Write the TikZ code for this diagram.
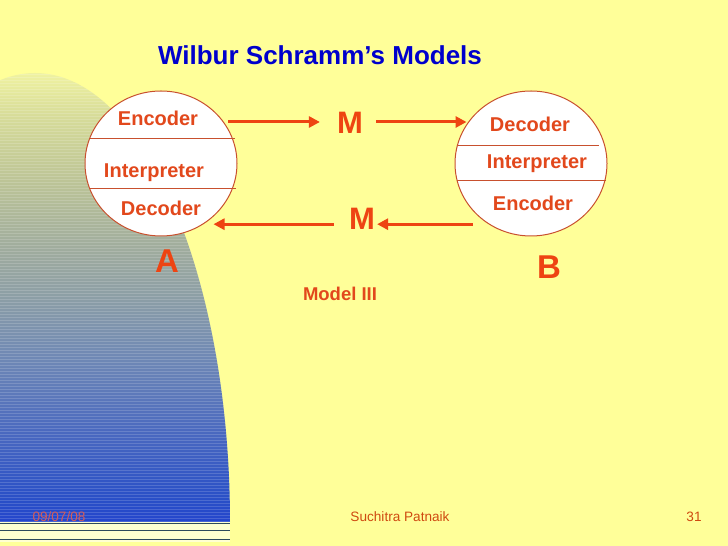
\documentclass[tikz,border=0pt]{standalone}
\usepackage{fontspec}
\setmainfont{Liberation Sans}
\usetikzlibrary{arrows.meta,shapes.geometric}

\definecolor{slideyellow}{HTML}{FFFF99}
\definecolor{ringbrown}{HTML}{C8502E}
\definecolor{partred}{HTML}{E2481C}
\definecolor{arrowred}{HTML}{EE4412}
\definecolor{titleblue}{HTML}{0000CC}
\definecolor{footred}{HTML}{CF4A10}
\definecolor{datered}{HTML}{D25C5C}
\definecolor{stripedark}{HTML}{2E4A5C}

\pgfdeclareverticalshading{sidefade}{100bp}{%
  rgb(0bp)=(0.14,0.27,0.80); rgb(25bp)=(0.14,0.27,0.80);
  rgb(27.5bp)=(0.16,0.31,0.78); rgb(35bp)=(0.29,0.41,0.75);
  rgb(43bp)=(0.43,0.53,0.71); rgb(50bp)=(0.55,0.62,0.65);
  rgb(55bp)=(0.62,0.67,0.62); rgb(63bp)=(0.74,0.77,0.59);
  rgb(70bp)=(0.84,0.86,0.60); rgb(75bp)=(0.94,0.95,0.63);
  rgb(100bp)=(0.94,0.95,0.63)}

\begin{document}
\begin{tikzpicture}[x=1pt, y=1pt,
    ring/.style={ellipse, draw=ringbrown, line width=1pt, fill=white,
                 minimum width=152pt, minimum height=145pt, inner sep=0pt},
    ringline/.style={draw=ringbrown, line width=0.9pt},
    part/.style={font=\fontsize{20}{24}\selectfont\bfseries, text=partred,
                 text height=14.3pt, text depth=0pt, inner sep=0pt},
    bigm/.style={font=\fontsize{31}{36}\selectfont\bfseries, text=arrowred,
                 text height=22.2pt, text depth=0pt, inner sep=2pt},
    who/.style={font=\fontsize{33}{38}\selectfont\bfseries, text=arrowred,
                text height=23.6pt, text depth=0pt, inner sep=0pt},
    msg/.style={draw=arrowred, line width=3pt,
                -{Triangle[length=11pt,width=11pt]}},
    foot/.style={font=\fontsize{13.6}{16}\selectfont, text height=9.7pt,
                 text depth=0pt, inner sep=0pt}]
  \useasboundingbox (0,0) rectangle (728,546);
  \fill[slideyellow] (0,0) rectangle (728,546);

  % shaded side panel
  \begin{scope}
    \clip (35,23) ellipse [x radius=195, y radius=450];
    \shade[shading=sidefade] (0,24) rectangle (240,474);
    \foreach \y in {25,28,...,472}
      \draw[white, opacity=0.16, line width=0.8pt] (0,\y) -- (240,\y);
  \end{scope}
  \fill[white!55!slideyellow] (0,4) rectangle (230,24);
  \foreach \y in {22.5,15.5,6.5}
    \draw[stripedark, line width=1.6pt] (0,\y) -- (230,\y);

  % title
  \node[font=\fontsize{26}{30}\selectfont\bfseries, text=titleblue,
        text height=18.6pt, text depth=0pt, inner sep=0pt]
        (head) at (320,491) {Wilbur Schramm’s Models};

  % the two parties
  \node[ring] (A) at (161,382.5) {};
  \node[ring] (B) at (531,382.5) {};
  \draw[ringline] (A.161) -- +(146,0);
  \draw[ringline] (A.199) -- +(147,0);
  \draw[ringline] (B.166) -- +(142,0);
  \draw[ringline] (B.193) -- +(149,0);

  \node[part] (encA) at (158,428) {Encoder};
  \node[part] (intA) at (154,376) {Interpreter};
  \node[part] (decA) at (161,338) {Decoder};
  \node[part] (decB) at (530,422) {Decoder};
  \node[part] (intB) at (537,385) {Interpreter};
  \node[part] (encB) at (533,343) {Encoder};

  \node[who] (labA) at (167,285) {A};
  \node[who] (labB) at (549,279) {B};

  % messages
  \node[bigm] (M1) at (350,424) {M};
  \node[bigm] (M2) at (362,328) {M};
  \draw[msg, shorten <=5pt, shorten >=15pt] (M1 -| A.34) -- (M1);
  \draw[msg, shorten <=11pt, shorten >=2pt] (M1) -- (M1 -| B.146);
  \draw[msg, shorten <=16pt] (B.235) -- (M2.east |- B.235);
  \draw[msg, shorten <=13pt, shorten >=10pt] (M2.west |- A.-55) -- (A.-55);

  \node[font=\fontsize{18.5}{22}\selectfont\bfseries, text=partred,
        text height=13.2pt, text depth=0pt, inner sep=0pt]
        (model) at (340,252) {Model III};

  % footer
  \node[foot, text=datered] (date) at (59,29) {09/07/08};
  \node[foot, text=footred] (author) at (400,29) {Suchitra Patnaik};
  \node[foot, text=footred] (page) at (694,29) {31};
\end{tikzpicture}
\end{document}
